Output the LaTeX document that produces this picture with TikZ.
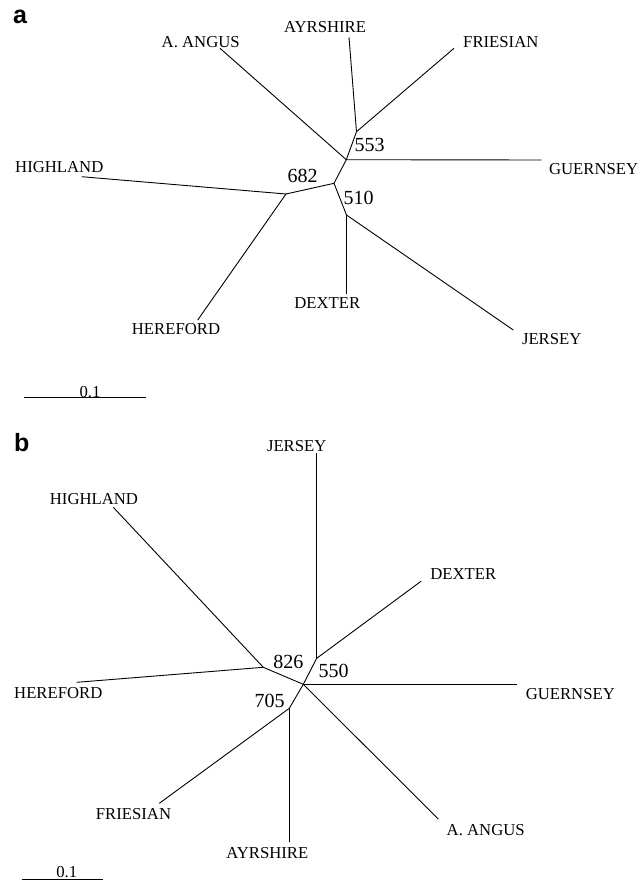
\documentclass[tikz,border=0pt]{standalone}
\usepackage{fontspec}
\setmainfont{Liberation Serif}
\newfontfamily\panelfont{Liberation Sans}

\begin{document}
\begin{tikzpicture}[
  x=1pt, y=-1pt,
  branch/.style={line width=0.9pt},
  taxon/.style={inner sep=0pt, font=\fontsize{16.7}{20}\selectfont},
  boot/.style={inner sep=0pt, font=\fontsize{20}{24}\selectfont},
  panel/.style={inner sep=0pt, font=\panelfont\bfseries\fontsize{25}{30}\selectfont}
]
\useasboundingbox (0,0) rectangle (641,880);

% Panel a
\node[panel] (pa) at (20,17) {a};

% Internal nodes of tree a
\coordinate (a553) at (356.5,131.7);
\coordinate (aroot) at (346.3,159.7);
\coordinate (ajoin) at (334,183.3);
\coordinate (a682) at (286,194);
\coordinate (a510) at (346.5,215);

% Branch tips of tree a
\coordinate (aangE) at (220,48.3);
\coordinate (aayrE) at (349,37.3);
\coordinate (afriE) at (454,48.3);
\coordinate (agueE) at (541.7,160);
\coordinate (ahigE) at (81.7,176.7);
\coordinate (aherE) at (197.7,320);
\coordinate (adexE) at (346.5,294);
\coordinate (ajerE) at (513.3,330);

\node[taxon] (aang) at (200.7,41.7) {A. ANGUS};
\node[taxon] (aayr) at (325,27.3) {AYRSHIRE};
\node[taxon] (afri) at (500.8,41.7) {FRIESIAN};
\node[taxon] (ague) at (593.6,169.3) {GUERNSEY};
\node[taxon] (ahig) at (59.3,167.3) {HIGHLAND};
\node[taxon] (aher) at (176,329.3) {HEREFORD};
\node[taxon] (adex) at (327.3,303.3) {DEXTER};
\node[taxon] (ajer) at (551.7,339.3) {JERSEY};

\node[boot] (ab553) at (369.7,145.3) {553};
\node[boot] (ab682) at (302.7,176) {682};
\node[boot] (ab510) at (358.7,197.7) {510};

\draw[branch] (aangE) -- (aroot);
\draw[branch] (aayrE) -- (a553);
\draw[branch] (afriE) -- (a553);
\draw[branch] (a553) -- (aroot);
\draw[branch] (aroot) -- (agueE);
\draw[branch] (aroot) -- (ajoin);
\draw[branch] (ajoin) -- (a682);
\draw[branch] (a682) -- (ahigE);
\draw[branch] (a682) -- (aherE);
\draw[branch] (ajoin) -- (a510);
\draw[branch] (a510) -- (adexE);
\draw[branch] (a510) -- (ajerE);

% Scale bar a
\coordinate (asbL) at (24,397.7);
\coordinate (asbR) at (145.7,397.7);
\draw[branch] (asbL) -- (asbR);
\node[taxon] (asb) at (90,391.7) {0.1};

% Panel b
\node[panel] (pb) at (21.7,443) {b};

% Internal nodes of tree b
\coordinate (bcen) at (303.3,684.3);
\coordinate (b826) at (263.3,667.3);
\coordinate (b550) at (316.7,658.3);
\coordinate (b705) at (289.3,708.3);

% Branch tips of tree b
\coordinate (bjerE) at (316.7,453.3);
\coordinate (bdexE) at (421.1,581.2);
\coordinate (bgueE) at (517.2,684.3);
\coordinate (bangE) at (438.3,819);
\coordinate (bayrE) at (289.3,841.7);
\coordinate (bfriE) at (159.3,803.3);
\coordinate (bherE) at (76.7,682.3);
\coordinate (bhigE) at (113.3,507.3);

\node[taxon] (bjer) at (296.7,446) {JERSEY};
\node[taxon] (bdex) at (463.2,573.9) {DEXTER};
\node[taxon] (bgue) at (570.3,693.7) {GUERNSEY};
\node[taxon] (bang) at (485.7,829.6) {A. ANGUS};
\node[taxon] (bayr) at (267.3,852.7) {AYRSHIRE};
\node[taxon] (bfri) at (133.5,814) {FRIESIAN};
\node[taxon] (bher) at (58.3,692.7) {HEREFORD};
\node[taxon] (bhig) at (94,498.6) {HIGHLAND};

\node[boot] (bb826) at (288.3,661.5) {826};
\node[boot] (bb550) at (333.7,670.8) {550};
\node[boot] (bb705) at (269.5,700.5) {705};

\draw[branch] (b550) -- (bjerE);
\draw[branch] (b550) -- (bdexE);
\draw[branch] (bcen) -- (b550);
\draw[branch] (bcen) -- (bgueE);
\draw[branch] (bcen) -- (bangE);
\draw[branch] (bcen) -- (b826);
\draw[branch] (b826) -- (bhigE);
\draw[branch] (b826) -- (bherE);
\draw[branch] (bcen) -- (b705);
\draw[branch] (b705) -- (bayrE);
\draw[branch] (b705) -- (bfriE);

% Scale bar b
\coordinate (bsbL) at (21.7,879.3);
\coordinate (bsbR) at (102.7,879.3);
\draw[branch] (bsbL) -- (bsbR);
\node[taxon] (bsb) at (66.7,872.3) {0.1};

\end{tikzpicture}
\end{document}
